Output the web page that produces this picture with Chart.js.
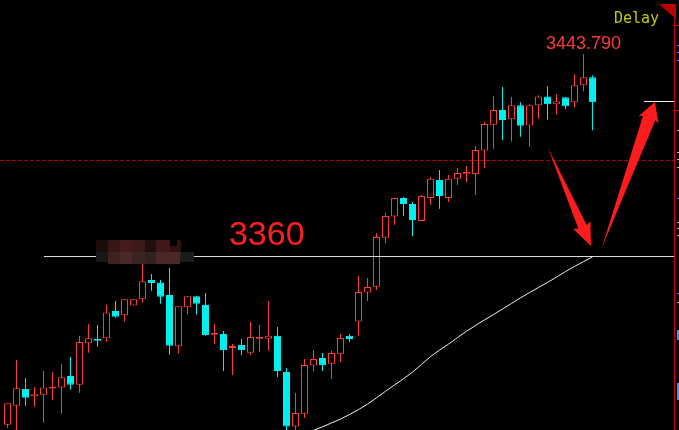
<!DOCTYPE html>
<html>
<head>
<meta charset="utf-8">
<script src="https://cdn.jsdelivr.net/npm/chart.js@4/dist/chart.umd.min.js"></script>
<style>
html, body { margin: 0; padding: 0; background: #000; overflow: hidden; }
#wrap { width: 679px; height: 430px; position: relative; }
</style>
</head>
<body>
<div id="wrap"><canvas id="kline"></canvas></div>
<script>
// candle data, one entry per bar (left to right)
const opens = [
  3290.7, 3298.5, 3305.4, 3302.3, 3303.1, 3305.6, 3306.1, 3310.8, 3307.2, 3324.3,
  3326.1, 3326.4, 3337.7, 3335.9, 3340.0, 3342.5, 3350.5, 3349.5, 3344.3, 3323.1,
  3339.2, 3343.8, 3340.2, 3327.9, 3328.2, 3322.4, 3323.6, 3320.4, 3326.2, 3326.2,
  3327.4, 3312.5, 3289.9, 3295.2, 3315.2, 3318.3, 3315.9, 3319.8, 3327.4, 3333.3,
  3345.3, 3347.7, 3368.0, 3376.7, 3384.4, 3381.9, 3374.9, 3384.4, 3391.8, 3384.4,
  3392.3, 3394.4, 3394.3, 3404.0, 3414.7, 3420.8, 3416.9, 3422.7, 3414.4, 3422.7,
  3426.4, 3423.1, 3426.0, 3424.0, 3431.0, 3434.3
];
const highs = [
  3299.5, 3317.4, 3310.0, 3306.3, 3312.9, 3312.5, 3315.8, 3318.7, 3327.4, 3332.3,
  3331.9, 3340.2, 3341.8, 3342.5, 3342.5, 3357.5, 3353.0, 3350.5, 3355.5, 3339.6,
  3343.8, 3343.8, 3345.1, 3332.3, 3329.4, 3324.0, 3326.1, 3333.1, 3331.9, 3341.8,
  3331.1, 3314.1, 3303.8, 3317.8, 3321.6, 3320.3, 3321.2, 3328.2, 3328.2, 3352.2,
  3351.3, 3369.9, 3378.2, 3384.4, 3384.8, 3382.7, 3385.6, 3393.1, 3396.0, 3393.9,
  3396.8, 3397.6, 3405.9, 3415.8, 3426.6, 3430.3, 3426.1, 3424.0, 3423.3, 3426.9,
  3430.6, 3427.3, 3426.0, 3435.5, 3443.79, 3435.1
];
const lows = [
  3289.4, 3286.4, 3298.5, 3298.1, 3291.5, 3301.0, 3295.2, 3305.2, 3303.9, 3320.4,
  3322.9, 3325.0, 3334.9, 3333.3, 3340.0, 3341.1, 3346.1, 3340.7, 3319.6, 3320.0,
  3336.2, 3336.2, 3327.4, 3324.0, 3312.9, 3311.2, 3319.5, 3319.5, 3320.7, 3321.2,
  3310.4, 3287.5, 3288.0, 3293.5, 3312.9, 3312.9, 3309.6, 3316.6, 3324.9, 3327.4,
  3341.8, 3346.4, 3365.8, 3373.2, 3377.0, 3368.7, 3374.9, 3381.5, 3379.9, 3382.7,
  3389.8, 3391.0, 3385.6, 3396.8, 3404.7, 3408.4, 3407.7, 3409.7, 3405.6, 3417.2,
  3416.8, 3418.8, 3421.1, 3421.9, 3428.5, 3412.4
];
const closes = [
  3299.5, 3305.7, 3301.8, 3303.3, 3306.1, 3306.3, 3310.3, 3307.2, 3324.9, 3326.4,
  3325.4, 3337.1, 3335.3, 3342.5, 3342.5, 3350.0, 3349.3, 3343.6, 3323.3, 3339.6,
  3343.8, 3340.7, 3327.8, 3328.6, 3321.6, 3323.2, 3321.6, 3326.9, 3326.9, 3327.4,
  3312.9, 3289.9, 3295.5, 3315.4, 3317.8, 3315.4, 3320.3, 3326.5, 3326.1, 3345.5,
  3347.6, 3368.3, 3377.0, 3384.4, 3381.9, 3375.3, 3385.2, 3392.3, 3385.2, 3392.3,
  3394.7, 3395.1, 3404.2, 3415.0, 3420.8, 3416.6, 3422.7, 3414.3, 3422.7, 3426.4,
  3423.1, 3424.4, 3422.3, 3431.0, 3434.3, 3424.0
];
// long moving average, only the visible part (starts at bar 32)
const maStart = 32;
const maValues = [
  3284.4, 3286.4, 3288.3, 3289.8, 3291.4, 3293.0, 3294.9, 3296.9, 3299.2, 3301.8,
  3304.5, 3307.1, 3309.7, 3312.4, 3315.6, 3318.8, 3321.5, 3324.0, 3326.7, 3329.3,
  3331.7, 3334.0, 3336.2, 3338.5, 3340.8, 3343.1, 3345.3, 3347.4, 3349.5, 3351.7,
  3354.0, 3356.1, 3358.1, 3360.0
];

const levelPrice = 3360;      // white support line + big label
const dashPrice = 3400;       // dashed red line
const levelFrom = 4;          // bar where the white line starts
const levelLabelAt = 24.6;    // bar where "3360" text starts
// hand drawn arrows, [bar, price] of tail and tip
const arrows = [
  { from: [60.06, 3405.1], to: [64.83, 3364.5], shaft: 4.5, head: 9.5, len: 21 },
  { from: [66.02, 3363.6], to: [71.94, 3424.1], shaft: 6.5, head: 10.6, len: 17 }
];

const slotCount = 75;   // empty slots to the right of the last bar
const labels = Array.from({ length: slotCount }, (_, i) => 'K' + (i + 1));

const RED = '#ff3b3b';
const CYAN = '#00f0f0';
const isUp = i => closes[i] >= opens[i];

const bodies = opens.map((o, i) => [o, closes[i]]);
const wicks = lows.map((l, i) => [l, highs[i]]);
const maLine = opens.map((_, i) => (i >= maStart ? maValues[i - maStart] : null));

function arrowShape(ctx, x0, y0, x1, y1, shaft, head, len) {
  const dx = x1 - x0, dy = y1 - y0, d = Math.hypot(dx, dy);
  const ux = dx / d, uy = dy / d, px = -uy, py = ux;
  const bx = x1 - ux * len, by = y1 - uy * len;
  ctx.beginPath();
  ctx.moveTo(x0, y0);
  ctx.lineTo(bx + px * shaft, by + py * shaft);
  ctx.lineTo(bx + px * head - ux * 2, by + py * head - uy * 2);
  ctx.lineTo(x1, y1);
  ctx.lineTo(bx - px * head - ux * 2, by - py * head - uy * 2);
  ctx.lineTo(bx - px * shaft, by - py * shaft);
  ctx.closePath();
  ctx.fill();
}

const decor = {
  id: 'decor',
  afterDatasetsDraw(chart) {
    const { ctx, scales: { x, y } } = chart;
    const right = 674;
    ctx.save();

    // dashed level
    const yd = Math.round(y.getPixelForValue(dashPrice)) + 0.5;
    ctx.strokeStyle = '#b00000';
    ctx.lineWidth = 1;
    ctx.setLineDash([4, 2]);
    ctx.beginPath();
    ctx.moveTo(0, yd);
    ctx.lineTo(right, yd);
    ctx.stroke();
    ctx.setLineDash([]);

    // white support level
    const yl = Math.round(y.getPixelForValue(levelPrice)) - 1;
    const xl = Math.round(x.getPixelForValue(levelFrom));
    ctx.fillStyle = '#dcdcdc';
    ctx.fillRect(xl, yl, right - xl, 1);

    // last price marker
    const yc = Math.round(y.getPixelForValue(closes[closes.length - 1])) - 1;
    ctx.fillStyle = '#f0f0f0';
    ctx.fillRect(644, yc, right - 644, 1);

    // mosaic smudge over the old label
    const cells = [
      [96, 108, 240, 252, '#1c0c0c'], [108, 120, 240, 252, '#3b1616'],
      [120, 132, 240, 252, '#481b1b'], [132, 145, 240, 252, '#3d1a1a'],
      [145, 156, 240, 252, '#220e0e'], [156, 170, 240, 252, '#401818'],
      [177, 181, 240, 252, '#32120f'], [170, 177, 246, 252, '#32120f'],
      [96, 108, 252, 262, '#171717'], [108, 120, 252, 264, '#3e2222'],
      [120, 132, 252, 264, '#4a2929'], [132, 145, 252, 264, '#3a2424'],
      [145, 156, 252, 264, '#2e2222'], [156, 180, 252, 264, '#4b2727'],
      [180, 194, 252, 262, '#1b1b1b']
    ];
    cells.forEach(c => { ctx.fillStyle = c[4]; ctx.fillRect(c[0], c[2], c[1] - c[0], c[3] - c[2]); });

    // texts
    ctx.textBaseline = 'alphabetic';
    ctx.fillStyle = '#ff1f1f';
    ctx.font = '34px "Liberation Sans", Arial, sans-serif';
    ctx.textAlign = 'left';
    ctx.fillText(String(levelPrice), x.getPixelForValue(levelLabelAt), y.getPixelForValue(levelPrice) - 12);

    const peak = highs.indexOf(Math.max(...highs));
    ctx.fillStyle = '#ff3a3a';
    ctx.font = '18px "Liberation Sans", Arial, sans-serif';
    ctx.textAlign = 'center';
    ctx.fillText(highs[peak].toFixed(3), x.getPixelForValue(peak), y.getPixelForValue(highs[peak]) - 5);

    ctx.fillStyle = '#c4c800';
    ctx.font = '15px "DejaVu Sans Mono", monospace';
    ctx.textAlign = 'left';
    ctx.fillText('Delay', 614, 23);

    // right frame
    ctx.fillStyle = '#d00000';
    ctx.fillRect(right, 5, 1, 430);
    ctx.fillRect(right, 25, 5, 1);
    ctx.fillRect(right, 110, 5, 1);
    ctx.fillStyle = '#b80000';
    ctx.beginPath();
    ctx.moveTo(659, 4);
    ctx.lineTo(676, 4);
    ctx.lineTo(676, 19);
    ctx.closePath();
    ctx.fill();
    // clipped axis text fragments
    ctx.fillStyle = '#4f8fe0';
    [45, 52, 60, 198, 293].forEach(t => ctx.fillRect(677, t, 2, 1));
    ctx.fillRect(677, 330, 2, 10);
    ctx.fillRect(677, 383, 2, 17);
    ctx.fillStyle = '#bbbbbb';
    [130, 152, 159, 167, 222, 228, 235, 302].forEach(t => ctx.fillRect(677, t, 2, 1));

    // arrows
    ctx.fillStyle = '#ff1c1c';
    arrows.forEach(a => {
      arrowShape(ctx,
        x.getPixelForValue(a.from[0]), y.getPixelForValue(a.from[1]),
        x.getPixelForValue(a.to[0]), y.getPixelForValue(a.to[1]),
        a.shaft, a.head, a.len);
    });
    ctx.restore();
  }
};

new Chart(document.getElementById('kline'), {
  type: 'bar',
  data: {
    labels,
    datasets: [
      {
        label: 'body',
        data: bodies,
        grouped: false,
        barThickness: 7,
        borderWidth: 1,
        borderSkipped: false,
        inflateAmount: 0,
        borderColor: c => (isUp(c.dataIndex) ? RED : CYAN),
        backgroundColor: c => (isUp(c.dataIndex) ? '#000' : CYAN)
      },
      {
        label: 'wick',
        data: wicks,
        grouped: false,
        barThickness: 1,
        borderWidth: 0,
        inflateAmount: 0,
        backgroundColor: c => (isUp(c.dataIndex) ? RED : CYAN)
      },
      {
        type: 'line',
        label: 'MA',
        data: maLine,
        borderColor: '#f0f0f0',
        borderWidth: 1,
        pointRadius: 0,
        cubicInterpolationMode: 'monotone'
      }
    ]
  },
  options: {
    responsive: true,
    maintainAspectRatio: false,
    devicePixelRatio: 1,
    animation: false,
    events: [],
    layout: { padding: { left: 3, right: 1, top: 0, bottom: 0 } },
    plugins: { legend: { display: false }, tooltip: { enabled: false } },
    scales: {
      x: { display: false, offset: true },
      y: { display: false, min: 3288.49, max: 3466.24 }
    }
  },
  plugins: [decor]
});
</script>
</body>
</html>
